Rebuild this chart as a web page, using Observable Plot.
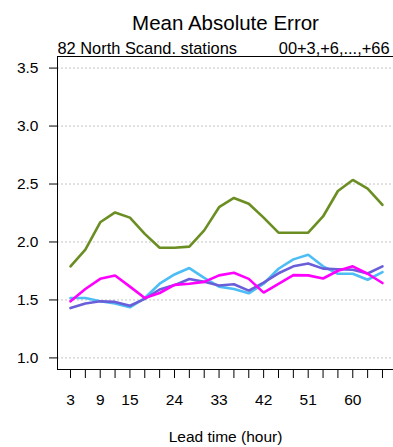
<!DOCTYPE html>
<html>
<head>
<meta charset="utf-8">
<script src="https://cdn.jsdelivr.net/npm/d3@7"></script>
<script src="https://cdn.jsdelivr.net/npm/@observablehq/plot@0.6"></script>
<style>
  html, body { margin: 0; padding: 0; background: #fff; overflow: hidden; }
  #chart svg { display: block; }
</style>
</head>
<body>
<div id="chart"></div>
<script>
// Lead times (hours) and mean absolute error for each forecast series
const leadTimes = [3, 6, 9, 12, 15, 18, 21, 24, 27, 30, 33, 36, 39, 42, 45, 48, 51, 54, 57, 60, 63, 66];
const oliveSeries = [1.79, 1.935, 2.17, 2.255, 2.21, 2.07, 1.95, 1.95, 1.96, 2.10, 2.30, 2.38, 2.33, 2.21, 2.08, 2.08, 2.08, 2.22, 2.44, 2.535, 2.46, 2.32];
const skySeries = [1.517, 1.517, 1.488, 1.47, 1.436, 1.517, 1.64, 1.72, 1.775, 1.69, 1.615, 1.595, 1.557, 1.64, 1.769, 1.85, 1.89, 1.79, 1.726, 1.726, 1.674, 1.74];
const slateSeries = [1.43, 1.47, 1.488, 1.483, 1.45, 1.509, 1.59, 1.628, 1.68, 1.656, 1.625, 1.635, 1.58, 1.65, 1.73, 1.79, 1.815, 1.77, 1.765, 1.76, 1.728, 1.79];
const magentaSeries = [1.488, 1.594, 1.682, 1.711, 1.615, 1.517, 1.56, 1.63, 1.64, 1.656, 1.712, 1.734, 1.682, 1.563, 1.639, 1.714, 1.712, 1.685, 1.752, 1.79, 1.726, 1.646];

const seriesNames = ["sky", "slate", "magenta", "olive"];
const seriesColors = ["#4dbdf5", "#6a5fd8", "#ff00ff", "#6b8e23"];
const seriesValues = [skySeries, slateSeries, magentaSeries, oliveSeries];

// Axis ticks and labels
const yTicks = [1.0, 1.5, 2.0, 2.5, 3.0, 3.5];
const xLabelled = [3, 9, 15, 24, 33, 42, 51, 60];

const titleText = "Mean Absolute Error";
const subtitleLeft = "82 North Scand. stations";
const subtitleRight = "00+3,+6,...,+66";
const xAxisLabel = "Lead time (hour)";

// Long-format table for the line marks
const rows = seriesNames.flatMap((name, i) =>
  leadTimes.map((lt, j) => ({series: name, lead: lt, mae: seriesValues[i][j]}))
);

const xDomain = [0.375, 68.225];
const yDomain = [0.9, 3.6];

const chart = Plot.plot({
  width: 393,
  height: 447,
  marginTop: 56,
  marginLeft: 57,
  marginRight: 0,
  marginBottom: 78,
  style: {fontFamily: "'Liberation Sans', Arial, Helvetica, sans-serif", fontSize: "15.5px", color: "#000", background: "#fff"},
  x: {domain: xDomain, axis: null},
  y: {domain: yDomain, axis: null},
  color: {domain: seriesNames, range: seriesColors},
  marks: [
    // dotted horizontal grid
    Plot.ruleY(yTicks, {stroke: "#c4c4c4", strokeWidth: 1, strokeDasharray: "2,2"}),
    // series lines
    Plot.line(rows, {x: "lead", y: "mae", z: "series", stroke: "series", strokeWidth: 2.6, strokeLinejoin: "miter"}),
    // plot box: left, top and bottom edges
    Plot.ruleX([xDomain[0]], {stroke: "#000", strokeWidth: 1}),
    Plot.ruleY([yDomain[0], yDomain[1]], {stroke: "#000", strokeWidth: 1}),
    // axes
    Plot.axisY({ticks: yTicks, tickFormat: d3.format(".1f"), tickSize: 8, tickPadding: 11, label: null, fontSize: 15.5}),
    Plot.axisX({ticks: leadTimes, tickFormat: d => xLabelled.includes(d) ? String(d) : "", tickSize: 9, tickPadding: 15, label: null, fontSize: 15.5}),
    // axis title
    Plot.text([xAxisLabel], {frameAnchor: "bottom", dy: 72, lineAnchor: "bottom", fontSize: 15.5}),
    // headings
    Plot.text([titleText], {frameAnchor: "top", dy: -27, lineAnchor: "bottom", fontSize: 20.5}),
    Plot.text([subtitleLeft], {frameAnchor: "top-left", textAnchor: "start", dy: -3, lineAnchor: "bottom", fontSize: 16.4}),
    Plot.text([subtitleRight], {frameAnchor: "top-right", textAnchor: "end", dx: -4, dy: -3, lineAnchor: "bottom", fontSize: 16.4})
  ]
});

document.getElementById("chart").append(chart);
</script>
</body>
</html>
